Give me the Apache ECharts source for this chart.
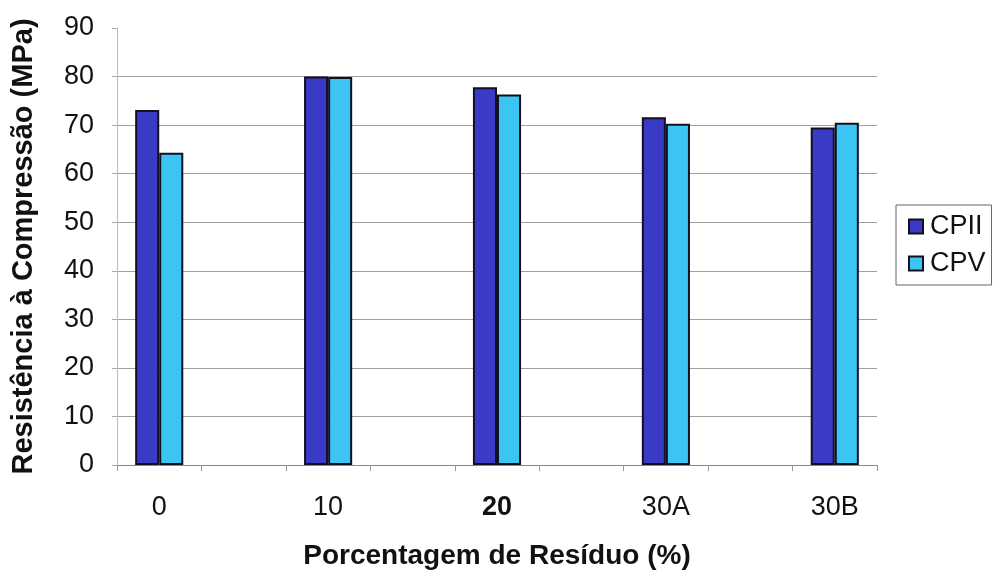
<!DOCTYPE html>
<html>
<head>
<meta charset="utf-8">
<script src="https://cdn.jsdelivr.net/npm/echarts@6/dist/echarts.min.js"></script>
<style>
  html, body { margin: 0; padding: 0; background: #ffffff; }
  #chart { width: 1001px; height: 577px; }
</style>
</head>
<body>
<div id="chart"></div>
<script>
// Residue percentage groups; empty entries leave a gap between the groups
const categories = ['0', '', '10', '', '20', '', '30A', '', '30B'];
const boldLabels = ['20'];
// Compressive strength (MPa) per cement type
const cpii = [73.1, null, 80.0, null, 77.8, null, 71.6, null, 69.5];
const cpv  = [64.3, null, 79.9, null, 76.3, null, 70.3, null, 70.5];
const seriesNames = ['CPII', 'CPV'];

const fontFamily = '"Liberation Sans", Arial, sans-serif';
const chart = echarts.init(document.getElementById('chart'), null, { renderer: 'canvas' });

chart.setOption({
  backgroundColor: '#ffffff',
  animation: false,
  textStyle: { fontFamily: fontFamily, color: '#111' },
  grid: { left: 117, right: 124, top: 28, bottom: 112, containLabel: false },
  legend: {
    orient: 'vertical',
    left: 896,
    top: 205,
    data: seriesNames,
    icon: 'rect',
    itemWidth: 14,
    itemHeight: 14,
    itemGap: 10,
    padding: [8, 6, 8, 12],
    borderColor: '#666',
    borderWidth: 1,
    textStyle: { fontSize: 27, color: '#111', fontFamily: fontFamily, padding: [0, 0, 0, 2] }
  },
  xAxis: {
    type: 'category',
    data: categories,
    name: 'Porcentagem de Resíduo (%)',
    nameLocation: 'middle',
    nameGap: 77,
    nameTextStyle: { fontSize: 28, fontWeight: 'bold', color: '#111' },
    axisLine: { lineStyle: { color: '#888', width: 1 } },
    axisTick: { show: true, length: 6, lineStyle: { color: '#999' } },
    axisLabel: {
      interval: 0,
      margin: 29,
      fontSize: 27,
      color: '#111',
      formatter: function (v) { return boldLabels.indexOf(v) >= 0 ? '{b|' + v + '}' : v; },
      rich: { b: { fontWeight: 'bold', fontSize: 27, color: '#111' } }
    },
    splitLine: { show: false }
  },
  yAxis: {
    type: 'value',
    min: 0,
    max: 90,
    interval: 10,
    name: 'Resistência à Compressão (MPa)',
    nameLocation: 'middle',
    nameGap: 79,
    nameTextStyle: { fontSize: 29, fontWeight: 'bold', color: '#111' },
    axisLine: { show: true, lineStyle: { color: '#bbb', width: 1 } },
    axisTick: { show: true, length: 5, lineStyle: { color: '#aaa' } },
    axisLabel: { margin: 23, fontSize: 27, color: '#111' },
    splitLine: { show: true, showMinLine: false, showMaxLine: false, lineStyle: { color: '#a0a0a0', width: 1 } }
  },
  series: [
    {
      name: seriesNames[0],
      type: 'bar',
      data: cpii,
      barGap: '0%',
      barCategoryGap: '43%',
      itemStyle: { color: '#3a3ac6', borderColor: '#111122', borderWidth: 2 }
    },
    {
      name: seriesNames[1],
      type: 'bar',
      data: cpv,
      barGap: '0%',
      barCategoryGap: '43%',
      itemStyle: { color: '#3cc4f2', borderColor: '#111122', borderWidth: 2 }
    }
  ]
});
</script>
</body>
</html>
